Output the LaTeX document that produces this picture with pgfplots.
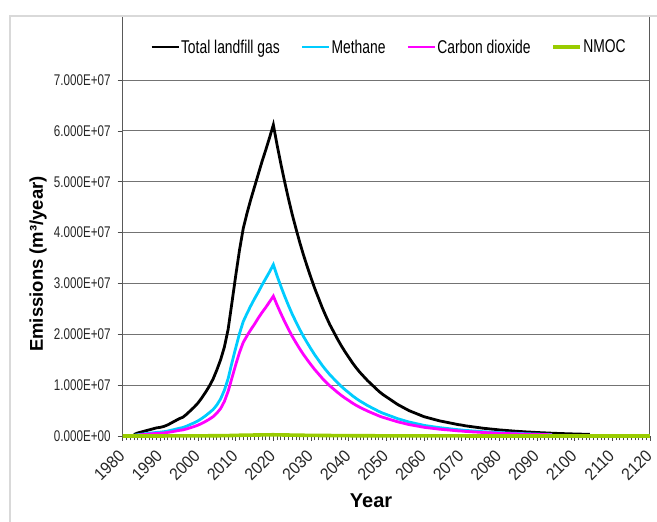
\documentclass[border=0pt]{standalone}
\usepackage{pgfplots}
\usepackage{pgfplotstable}
\pgfplotsset{compat=1.18}
\usepackage{fontspec}
\setmainfont{Liberation Sans}
\newfontfamily\narrowfont[FakeStretch=0.75]{Liberation Sans}
\newfontfamily\semifont[FakeStretch=0.92]{Liberation Sans}
\definecolor{cCH4}{RGB}{0,204,255}
\definecolor{cCO2}{RGB}{255,0,255}
\definecolor{cNMOC}{RGB}{153,204,0}

% values in units of 1E+07 m3/year
\pgfplotstableread{
year total
1983 0.03
1984 0.06
1985 0.08
1986 0.10
1987 0.12
1988 0.14
1989 0.16
1990 0.17
1991 0.19
1992 0.22
1993 0.26
1994 0.30
1995 0.34
1996 0.37
1997 0.43
1998 0.50
1999 0.57
2000 0.65
2001 0.75
2002 0.86
2003 0.98
2004 1.12
2005 1.30
2006 1.50
2007 1.75
2008 2.10
2009 2.62
2010 3.15
2011 3.65
2012 4.08
2013 4.38
2014 4.65
2015 4.90
2016 5.15
2017 5.40
2018 5.63
2019 5.87
2020 6.12
2021 5.72
2022 5.35
2023 5.00
2024 4.67
2025 4.36
2026 4.08
2027 3.81
2028 3.56
2029 3.33
2030 3.11
2031 2.90
2032 2.71
2033 2.52
2034 2.35
2035 2.19
2036 2.05
2037 1.91
2038 1.78
2039 1.66
2040 1.55
2041 1.44
2042 1.34
2043 1.25
2044 1.17
2045 1.09
2046 1.02
2047 0.95
2048 0.88
2049 0.82
2050 0.77
2051 0.72
2052 0.67
2053 0.62
2054 0.58
2055 0.54
2056 0.50
2057 0.47
2058 0.44
2059 0.41
2060 0.38
2061 0.36
2062 0.34
2063 0.32
2064 0.30
2065 0.285
2066 0.27
2067 0.255
2068 0.24
2069 0.225
2070 0.215
2071 0.20
2072 0.19
2073 0.18
2074 0.17
2075 0.16
2076 0.15
2077 0.143
2078 0.135
2079 0.128
2080 0.12
2081 0.114
2082 0.108
2083 0.102
2084 0.096
2085 0.091
2086 0.086
2087 0.081
2088 0.077
2089 0.073
2090 0.069
2091 0.065
2092 0.062
2093 0.058
2094 0.055
2095 0.052
2096 0.049
2097 0.047
2098 0.044
2099 0.042
2100 0.040
2101 0.038
2102 0.036
2103 0.034
2104 0.032
}\tabTotal

\pgfplotstableread{
year ch4 co2
1983 0.012 0.008
1984 0.025 0.017
1985 0.035 0.025
1986 0.045 0.032
1987 0.053 0.038
1988 0.062 0.045
1989 0.070 0.051
1990 0.076 0.055
1991 0.085 0.061
1992 0.098 0.071
1993 0.115 0.083
1994 0.133 0.096
1995 0.152 0.110
1996 0.167 0.120
1997 0.195 0.140
1998 0.228 0.163
1999 0.260 0.187
2000 0.298 0.214
2001 0.345 0.248
2002 0.398 0.287
2003 0.458 0.330
2004 0.52 0.38
2005 0.61 0.45
2006 0.73 0.54
2007 0.90 0.68
2008 1.13 0.88
2009 1.44 1.14
2010 1.73 1.40
2011 2.01 1.64
2012 2.25 1.84
2013 2.41 1.97
2014 2.56 2.09
2015 2.70 2.20
2016 2.83 2.32
2017 2.97 2.43
2018 3.10 2.53
2019 3.23 2.64
2020 3.37 2.75
2021 3.146 2.574
2022 2.943 2.408
2023 2.750 2.250
2024 2.569 2.102
2025 2.398 1.962
2026 2.244 1.836
2027 2.096 1.715
2028 1.958 1.602
2029 1.832 1.499
2030 1.711 1.400
2031 1.595 1.305
2032 1.491 1.220
2033 1.386 1.134
2034 1.293 1.058
2035 1.205 0.986
2036 1.128 0.923
2037 1.051 0.860
2038 0.979 0.801
2039 0.913 0.747
2040 0.853 0.698
2041 0.792 0.648
2042 0.737 0.603
2043 0.688 0.563
2044 0.644 0.527
2045 0.600 0.491
2046 0.561 0.459
2047 0.523 0.428
2048 0.484 0.396
2049 0.451 0.369
2050 0.424 0.347
2051 0.396 0.324
2052 0.369 0.302
2053 0.341 0.279
2054 0.319 0.261
2055 0.297 0.243
2056 0.275 0.225
2057 0.259 0.212
2058 0.242 0.198
2059 0.226 0.185
2060 0.209 0.171
2061 0.198 0.162
2062 0.187 0.153
2063 0.176 0.144
2064 0.165 0.135
2065 0.157 0.128
2066 0.149 0.122
2067 0.140 0.115
2068 0.132 0.108
2069 0.124 0.101
2070 0.118 0.097
2071 0.110 0.090
2072 0.105 0.086
2073 0.099 0.081
2074 0.094 0.077
2075 0.088 0.072
2076 0.083 0.068
2077 0.079 0.064
2078 0.074 0.061
2079 0.070 0.058
2080 0.066 0.054
2081 0.063 0.051
2082 0.059 0.049
2083 0.056 0.046
2084 0.053 0.043
2085 0.050 0.041
2086 0.047 0.039
2087 0.045 0.036
2088 0.042 0.035
2089 0.040 0.033
2090 0.038 0.031
2091 0.036 0.029
2092 0.034 0.028
2093 0.032 0.026
2094 0.030 0.025
}\tabGas

\pgfplotstableread{
year nmoc
1980 0
1990 0.0007
2000 0.0026
2005 0.005
2008 0.008
2010 0.012
2012 0.016
2014 0.018
2016 0.020
2018 0.022
2020 0.024
2022 0.021
2024 0.019
2026 0.016
2028 0.014
2030 0.012
2035 0.009
2040 0.006
2050 0.003
2060 0.0015
2080 0.0005
2100 0.0001
2120 0
}\tabNMOC

\begin{document}
\begin{tikzpicture}
\begin{axis}[
  scale only axis,
  width=527.3pt, height=420pt,
  at={(0pt,0pt)}, anchor=south west,
  xmin=1980, xmax=2120,
  ymin=0, ymax=8.26,
  clip=false,
  axis line style={black!65, line width=1pt},
  xtick={1980,1990,2000,2010,2020,2030,2040,2050,2060,2070,2080,2090,2100,2110,2120},
  xticklabels={1980,1990,2000,2010,2020,2030,2040,2050,2060,2070,2080,2090,2100,2110,2120},
  minor x tick num=9,
  ytick={0,1,2,3,4,5,6,7},
  yticklabels={0.000E+00,1.000E+07,2.000E+07,3.000E+07,4.000E+07,5.000E+07,6.000E+07,7.000E+07},
  tick pos=left,
  tick align=outside,
  major tick length=5pt,
  minor tick length=4.5pt,
  every tick/.style={black!70, line width=0.8pt},
  ymajorgrids,
  major grid style={black!55, line width=1pt},
  yticklabel style={font=\fontsize{15.5}{17}\narrowfont, text=black!85, anchor=east, inner sep=0pt, xshift=-7pt},
  xticklabel style={yshift=-12pt, xshift=-1pt, font=\fontsize{17}{18}\semifont, text=black!85, rotate=45, anchor=east, inner sep=0pt},
  ylabel={Emissions (m³/year)},
  ylabel style={font=\fontsize{18.5}{20}\selectfont\bfseries, at={(axis description cs:-0.1606,0.4095)}, anchor=center},
  xlabel={Year},
  xlabel style={font=\fontsize{20}{22}\selectfont\bfseries, at={(axis description cs:0.471,-0.155)}, anchor=center},
  legend columns=4,
  legend style={at={(axis description cs:0.504,0.926)}, anchor=center, draw=none, fill=none,
    font=\fontsize{18.5}{20}\narrowfont, nodes={inner sep=1pt},
    /tikz/every even column/.append style={column sep=20pt}},
  legend image code/.code={\draw[#1] (0pt,0pt) -- (27pt,0pt);},
]
\addplot[black, line width=2.8pt] table[x=year, y=total] {\tabTotal};
\addlegendentry{Total landfill gas}
\addplot[cCH4, line width=2.8pt] table[x=year, y=ch4] {\tabGas};
\addlegendentry{Methane}
\addplot[cCO2, line width=2.8pt] table[x=year, y=co2] {\tabGas};
\addlegendentry{Carbon dioxide}
\addplot[cNMOC, line width=3.6pt] table[x=year, y=nmoc] {\tabNMOC};
\addlegendentry{NMOC}
\end{axis}
\draw[black!15, line width=1.2pt] (-112.7pt,-100pt) -- (-112.7pt,420pt) -- (560pt,420pt);
\pgfresetboundingbox
\path[use as bounding box] (-122.7pt,-86pt) rectangle (534.3pt,436pt);
\end{tikzpicture}
\end{document}
